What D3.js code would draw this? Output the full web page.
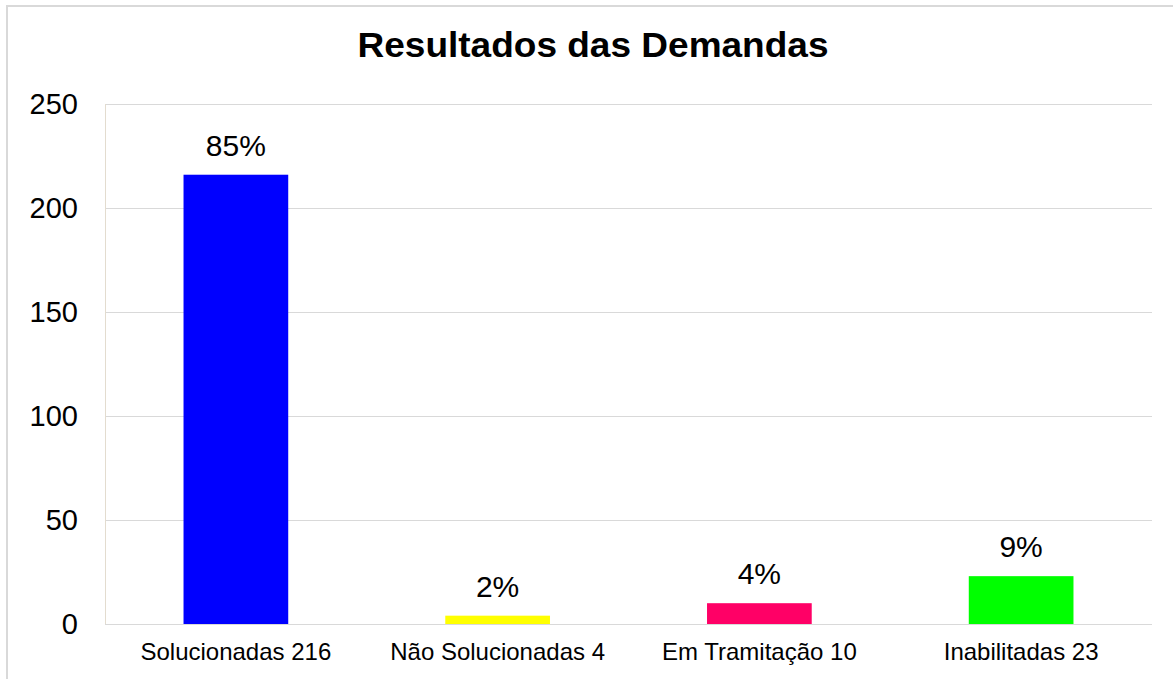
<!DOCTYPE html>
<html>
<head>
<meta charset="utf-8">
<script src="https://cdn.jsdelivr.net/npm/d3@7"></script>
<style>
  html, body { margin: 0; padding: 0; background: #fff; }
  svg { display: block; font-family: "Liberation Sans", Arial, sans-serif; }
</style>
</head>
<body>
<svg id="chart" width="1173" height="679"></svg>
<script>
const categories = ["Solucionadas 216", "Não Solucionadas 4", "Em Tramitação 10", "Inabilitadas 23"];
const values = [216, 4, 10, 23];
const percentLabels = ["85%", "2%", "4%", "9%"];
const barColors = ["#0000FF", "#FFFF00", "#FF0066", "#00FF00"];
const yTicks = [0, 50, 100, 150, 200, 250];
const title = "Resultados das Demandas";

const svg = d3.select("#chart");
const W = 1173, H = 679;

// outer frame
svg.append("rect")
  .attr("x", 7).attr("y", 6)
  .attr("width", W).attr("height", H)
  .attr("fill", "#fff")
  .attr("stroke", "#d9d9d9").attr("stroke-width", 2);

const plot = { left: 105, right: 1152, top: 104, bottom: 624 };

const x = d3.scaleBand().domain(categories).range([plot.left, plot.right]).padding(0);
const y = d3.scaleLinear().domain([0, 250]).range([plot.bottom, plot.top]);

// gridlines
svg.append("g").selectAll("line").data(yTicks).join("line")
  .attr("x1", plot.left).attr("x2", plot.right)
  .attr("y1", d => Math.round(y(d)) + 0.5).attr("y2", d => Math.round(y(d)) + 0.5)
  .attr("stroke", "#d9d9d9").attr("stroke-width", 1);

// left axis line
svg.append("line")
  .attr("x1", plot.left + 0.5).attr("x2", plot.left + 0.5)
  .attr("y1", plot.top).attr("y2", plot.bottom)
  .attr("stroke", "#e3dccf").attr("stroke-width", 1);

// y tick labels
svg.append("g").selectAll("text").data(yTicks).join("text")
  .attr("x", 78).attr("y", d => y(d) + 10)
  .attr("text-anchor", "end")
  .attr("font-size", 29).attr("fill", "#000")
  .text(d => d);

// bars
const bw = x.bandwidth() * 0.4;
svg.append("g").selectAll("rect").data(values).join("rect")
  .attr("x", (d, i) => x(categories[i]) + x.bandwidth() * 0.3)
  .attr("width", bw)
  .attr("y", d => y(d))
  .attr("height", d => y(0) - y(d))
  .attr("fill", (d, i) => barColors[i]);

// data labels
svg.append("g").selectAll("text").data(values).join("text")
  .attr("x", (d, i) => x(categories[i]) + x.bandwidth() / 2)
  .attr("y", d => y(d) - 19)
  .attr("text-anchor", "middle")
  .attr("font-size", 30).attr("fill", "#000")
  .text((d, i) => percentLabels[i]);

// category labels
svg.append("g").selectAll("text").data(categories).join("text")
  .attr("x", d => x(d) + x.bandwidth() / 2)
  .attr("y", 660)
  .attr("text-anchor", "middle")
  .attr("font-size", 24).attr("fill", "#000")
  .text(d => d);

// title
svg.append("text")
  .attr("x", 593).attr("y", 57)
  .attr("text-anchor", "middle")
  .attr("font-size", 35).attr("font-weight", "bold").attr("fill", "#000")
  .attr("textLength", 471).attr("lengthAdjust", "spacingAndGlyphs")
  .text(title);
</script>
</body>
</html>
